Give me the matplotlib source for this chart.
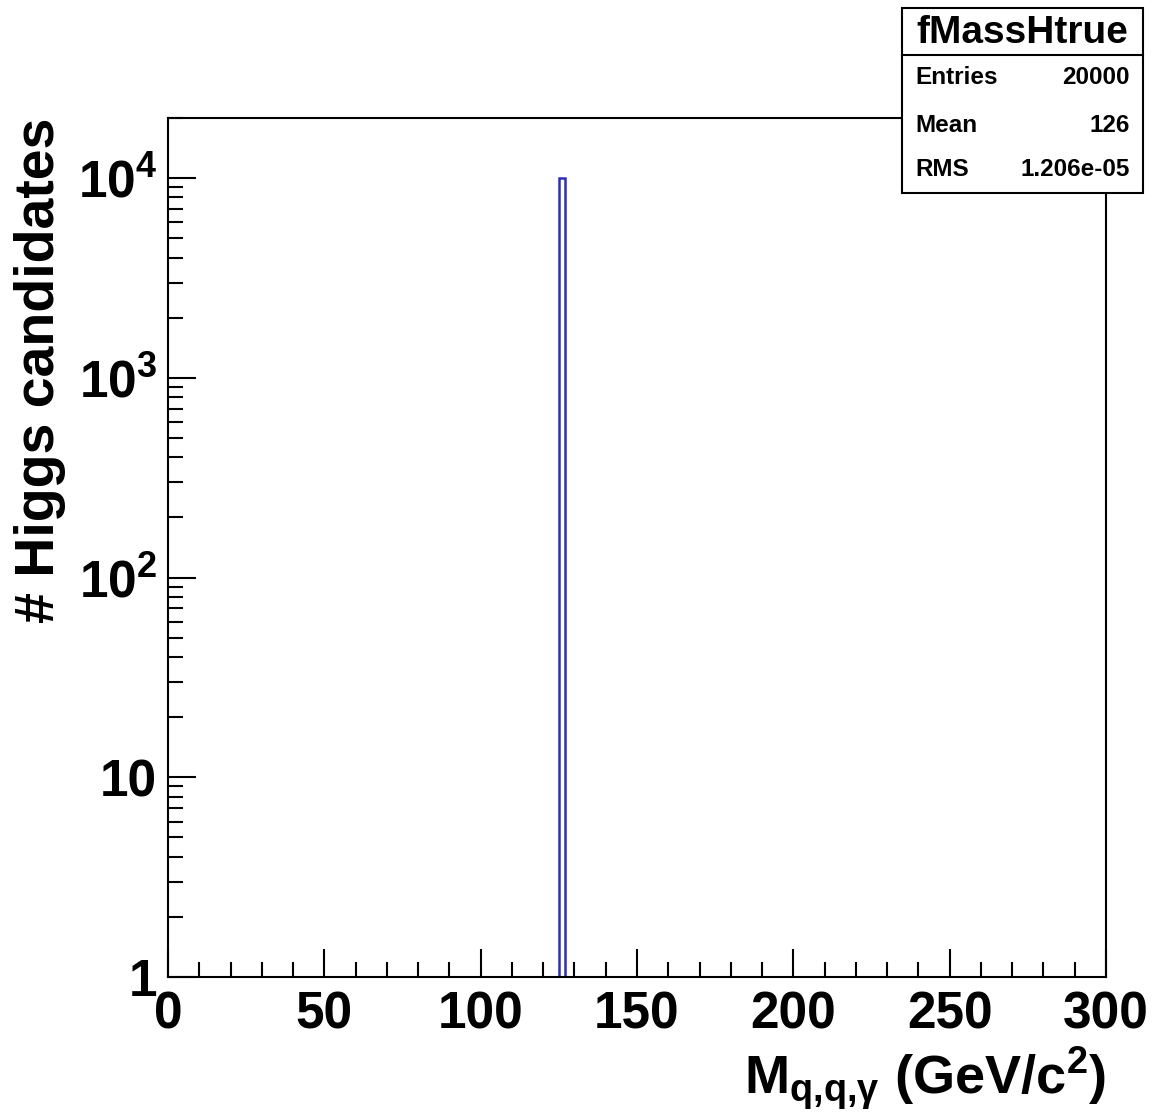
import matplotlib
matplotlib.use("Agg")
import matplotlib.pyplot as plt
from matplotlib.ticker import LogLocator, MultipleLocator, FixedFormatter, FixedLocator, NullFormatter
from matplotlib.patches import Rectangle

# histogram data (fMassHtrue)
bin_edges = [125.0, 127.0]
bin_counts = [10000.0]

# stats box
hist_name = "fMassHtrue"
stat_names = ["Entries", "Mean", "RMS"]
stat_values = ["20000", "126", "1.206e-05"]

# axis setup
x_range = (0, 300)
y_range = (1, 2e4)
y_ticks = [1, 10, 100, 1000, 10000]
y_tick_labels = ["1", "10", r"$10^{2}$", r"$10^{3}$", r"$10^{4}$"]

plt.rcParams['font.family'] = ['Liberation Sans', 'DejaVu Sans']
plt.rcParams['font.weight'] = 'bold'
plt.rcParams['mathtext.fontset'] = 'custom'
plt.rcParams['mathtext.rm'] = 'Liberation Sans:bold'
plt.rcParams['mathtext.it'] = 'Liberation Sans:bold'
plt.rcParams['mathtext.bf'] = 'Liberation Sans:bold'
plt.rcParams['mathtext.default'] = 'regular'

fig = plt.figure(figsize=(11.56, 11.16), dpi=100)
ax = fig.add_axes([168/1156, 1 - 977/1116, (1106-168)/1156, (977-118)/1116])

ax.stairs(bin_counts, bin_edges, baseline=0.5, color='#2c2cc0', linewidth=1.8)

ax.set_yscale('log')
ax.set_xlim(*x_range)
ax.set_ylim(*y_range)

# ticks (ROOT style: inside, only left/bottom)
ax.xaxis.set_major_locator(MultipleLocator(50))
ax.xaxis.set_minor_locator(MultipleLocator(10))
ax.yaxis.set_major_locator(FixedLocator(y_ticks))
ax.yaxis.set_major_formatter(FixedFormatter(y_tick_labels))
ax.yaxis.set_minor_locator(LogLocator(base=10, subs=range(2, 10)))
ax.yaxis.set_minor_formatter(NullFormatter())
ax.tick_params(which='both', direction='in', top=False, right=False, width=1.5, colors='black')
ax.tick_params(which='major', length=20, labelsize=37)
ax.tick_params(axis='x', which='major', pad=10)
ax.tick_params(axis='y', which='major', pad=8)
ax.tick_params(which='minor', length=11)
for lab in ax.get_xticklabels() + ax.get_yticklabels():
    lab.set_fontweight('bold')
for s in ax.spines.values():
    s.set_linewidth(1.5)

ax.set_xlabel(r"M$_{q{,}q{,}\gamma}$ (GeV/c$^{2}$)", fontsize=39, fontweight='bold',
              loc='right', labelpad=4)
fig.text(40/1156, 1 - 118/1116, "# Higgs candidates", rotation=90, ha='center', va='top',
         fontsize=40, fontweight='bold')

# stats box
x0, x1 = 902/1156, 1143/1156
y0, y1 = 1 - 193/1116, 1 - 8/1116
ydiv = 1 - 55/1116
fig.patches.append(Rectangle((x0, y0), x1 - x0, y1 - y0, transform=fig.transFigure,
                             facecolor='white', edgecolor='black', linewidth=1.5, zorder=5))
fig.lines.append(plt.Line2D([x0, x1], [ydiv, ydiv], transform=fig.transFigure,
                            color='black', linewidth=1.5, zorder=6))
fig.text((x0 + x1) / 2, 1 - 33/1116, hist_name, ha='center', va='center',
         fontsize=28, fontweight='bold', zorder=7)
row_y = [78, 125, 170]
for name, val, yy in zip(stat_names, stat_values, row_y):
    fig.text(915/1156, 1 - yy/1116, name, ha='left', va='center', fontsize=17.5, fontweight='bold', zorder=7)
    fig.text(1130/1156, 1 - yy/1116, val, ha='right', va='center', fontsize=17.5, fontweight='bold', zorder=7)

fig.savefig("out.png", dpi=100)
